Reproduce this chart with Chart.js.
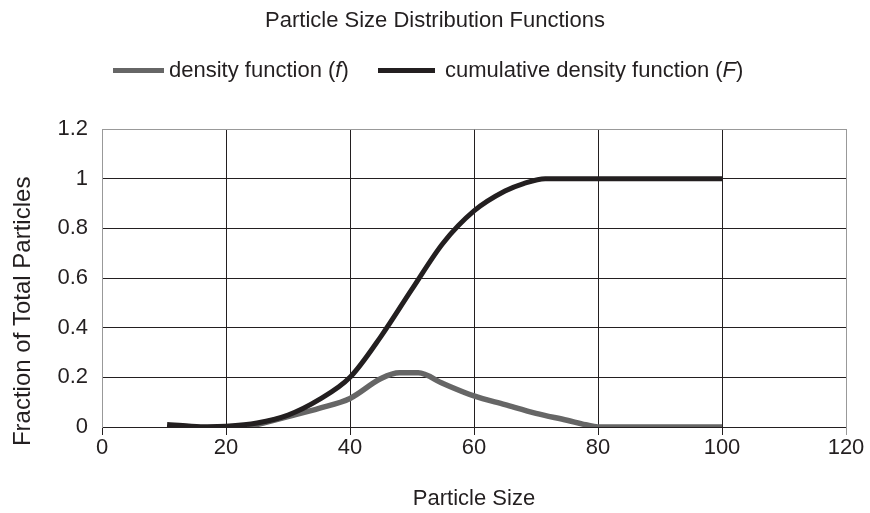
<!DOCTYPE html>
<html>
<head>
<meta charset="utf-8">
<script src="https://cdn.jsdelivr.net/npm/chart.js@4"></script>
<style>
  body { margin: 0; background: #fff; }
  #wrap { position: relative; width: 870px; height: 513px; }
  .item { position: absolute; top: 57px; height: 26px; display: flex; align-items: center; white-space: nowrap;
          font: 22px 'Liberation Sans', Arial, sans-serif; color: #231f20; }
  .swatch { display: inline-block; height: 5px; }
</style>
</head>
<body>
<div id="wrap">
  <canvas id="myChart" width="870" height="513"></canvas>
  <div class="item" style="left:113px"><span class="swatch" style="width:51px;background:#666666;margin-right:5px"></span>density function (<i>f</i>)</div>
  <div class="item" style="left:378px"><span class="swatch" style="width:57px;background:#231f20;margin-right:10px"></span>cumulative density function (<i>F</i>)</div>
</div>
<script>
// Werte
const densityX = [23.5, 26, 30, 35, 40, 45, 48, 51, 55, 60, 65, 70, 75, 78, 80, 100];
const densityY = [0, 0.016, 0.042, 0.075, 0.115, 0.195, 0.218, 0.218, 0.175, 0.125, 0.09, 0.055, 0.027, 0.009, 0, 0];

const cumulativeX = [10.5, 14, 17, 20, 25, 30, 35, 40, 45, 50, 55, 60, 65, 68, 71.5, 80, 90, 100];
const cumulativeY = [0.01, 0.004, 0.001, 0.003, 0.016, 0.048, 0.11, 0.2, 0.365, 0.555, 0.74, 0.87, 0.95, 0.98, 1, 1, 1, 1];

const black = '#231f20';
const grey = '#999999';
const fontFamily = "'Liberation Sans', Arial, sans-serif";

const toPoints = (xs, ys) => xs.map((x, i) => ({ x: x, y: ys[i] }));

var ctx = document.getElementById('myChart').getContext('2d');
var myChart = new Chart(ctx, {
    type: 'line',
    data: {
        datasets: [
            {
              label: 'density function (f)',
              data: toPoints(densityX, densityY),
              borderColor: '#666666',
              borderWidth: 5.5,
              pointRadius: 0,
              cubicInterpolationMode: 'monotone',
              order: 1,
            },
            {
              label: 'cumulative density function (F)',
              data: toPoints(cumulativeX, cumulativeY),
              borderColor: black,
              borderWidth: 5,
              pointRadius: 0,
              cubicInterpolationMode: 'monotone',
              order: 0,
            },
        ]
    },
    options: {
        responsive: false,
        animation: false,
        layout: { padding: 0 },
        plugins: {
            legend: { display: false },
            tooltip: { enabled: false },
            title: {
                display: true,
                text: 'Particle Size Distribution Functions',
                color: black,
                font: { family: fontFamily, size: 22, weight: 'normal' },
                padding: { top: 8, bottom: 94.6 }
            },
        },
        scales: {
            x: {
                type: 'linear',
                min: 0,
                max: 120,
                ticks: { stepSize: 20, color: black, font: { family: fontFamily, size: 22 }, padding: 0, maxRotation: 0 },
                grid: {
                    color: c => (c.tick && c.tick.value === 120) ? grey : black,
                    tickLength: 8,
                    lineWidth: 1,
                },
                border: { color: black },
                title: {
                    display: true,
                    text: 'Particle Size',
                    color: black,
                    font: { family: fontFamily, size: 22 },
                    padding: { top: 0, bottom: 1 }
                },
                afterFit: s => { s.height = 86; }
            },
            y: {
                min: 0,
                max: 1.2,
                ticks: {
                    stepSize: 0.2, color: black, font: { family: fontFamily, size: 22 }, padding: 14,
                    callback: v => String(Number(v.toFixed(1)))
                },
                grid: {
                    color: c => (c.tick && Math.abs(c.tick.value - 1.2) < 1e-6) ? grey : black,
                    drawTicks: false,
                    lineWidth: 1,
                },
                border: { color: grey },
                title: {
                    display: true,
                    // trailing spaces push the text down like in the original
                    text: 'Fraction of Total Particles' + ' '.repeat(10),
                    color: black,
                    font: { family: fontFamily, size: 24 },
                    padding: { top: 9, bottom: 0 }
                },
                afterFit: s => { s.width = 102; }
            },
            // right frame line of the plot area
            yRight: {
                position: 'right',
                min: 0,
                max: 1.2,
                ticks: { display: false },
                grid: { display: false },
                border: { color: grey },
                afterFit: s => { s.width = 24; }
            }
        }
    }
});
</script>
</body>
</html>
